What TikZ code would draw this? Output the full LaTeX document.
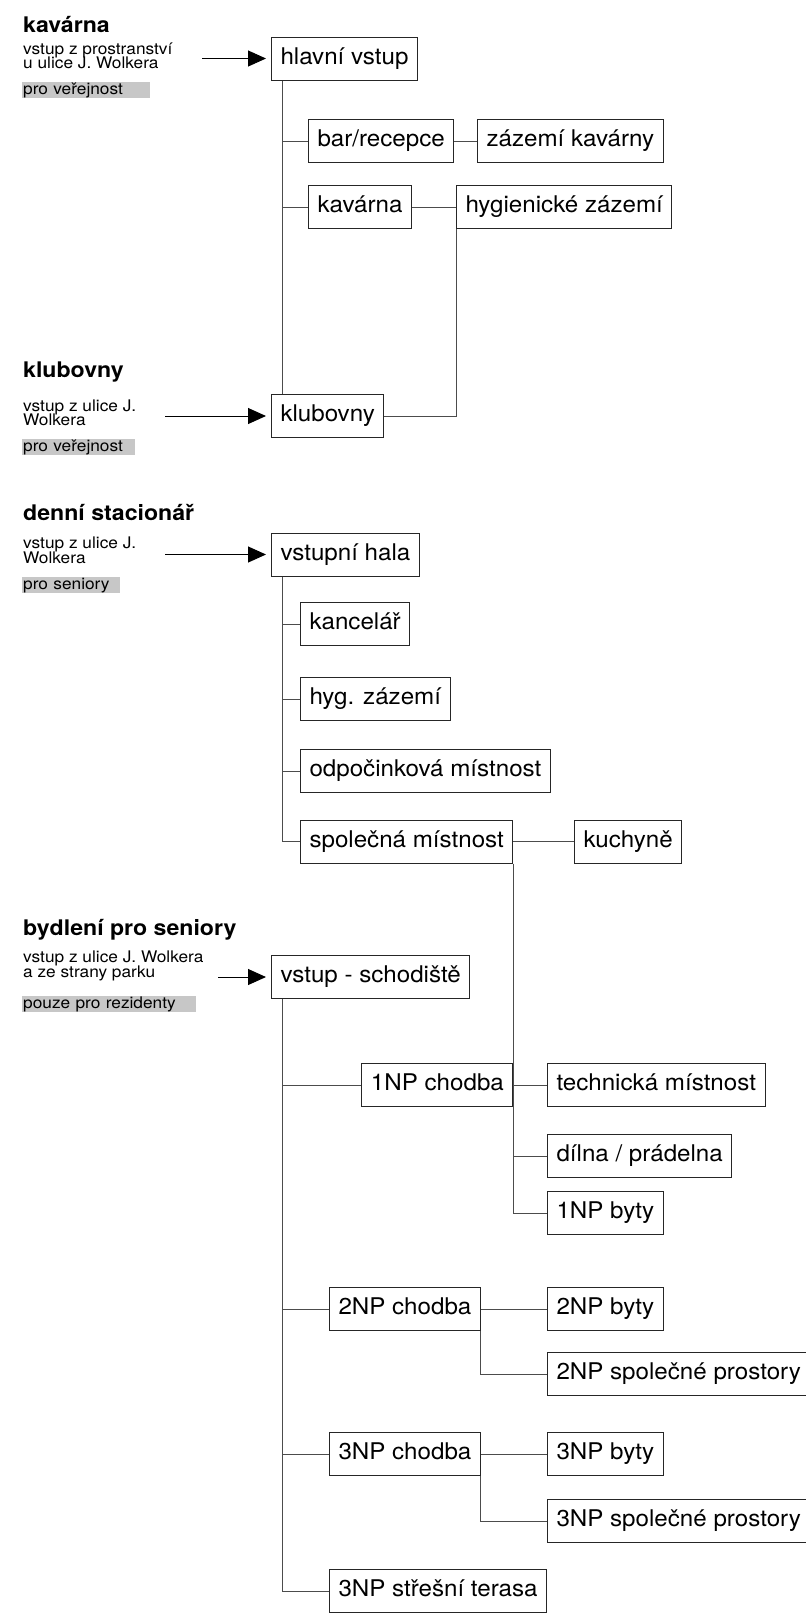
\documentclass[tikz,border=0pt]{standalone}
\usepackage{fontspec}
\setmainfont{TeX Gyre Heros}[FakeStretch=1.05]
\newfontfamily\smallfont{TeX Gyre Heros}[FakeStretch=1.08]
\newfontfamily\headfont{TeX Gyre Heros}[FakeStretch=1.075]
\usetikzlibrary{arrows.meta}
\begin{document}
\begin{tikzpicture}[x=1pt,y=-1pt,
  box/.style={draw=black!85, line width=1pt, anchor=west, font=\fontsize{23}{26}\selectfont, text height=16.8pt, text depth=5pt, inner xsep=9pt, inner ysep=0pt, minimum height=43pt},
  conn/.style={draw=black!70, line width=1pt},
  entry/.style={-{Triangle[length=18pt,width=16pt]}, line width=1pt, black, shorten >=5pt},
  head/.style={anchor=base west, font=\headfont\fontsize{21.5}{24}\selectfont\bfseries, inner sep=0pt},
  note/.style={anchor=base west, font=\smallfont\fontsize{16}{18}\selectfont, inner sep=0pt},
  tag/.style={anchor=north west, fill=black!22, font=\smallfont\fontsize{16}{18}\selectfont, inner xsep=1pt, inner ysep=0pt, text height=12pt, text depth=4pt, align=left}
]
\useasboundingbox (0,0) rectangle (806,1618);

% ---- kavarna
\node[head] (h1) at (23,32) {kavárna};
\node[note] (n1a) at (23,54) {vstup z prostranství};
\node[note] (n1b) at (23,68) {u ulice J. Wolkera};
\node[tag, text width=126pt] (t1) at (22,82) {pro veřejnost};
\coordinate (a1) at (202,58.5);
\node[box] (hv) at (271,58.5) {hlavní vstup};
\node[box] (bar) at (308,141) {bar/recepce};
\node[box] (zk) at (477,141) {zázemí kavárny};
\node[box] (kav) at (308,207) {kavárna};
\node[box] (hyg) at (456,207) {hygienické zázemí};

% ---- klubovny
\node[head] (h2) at (23,377) {klubovny};
\node[note] (n2a) at (23,411) {vstup z ulice J.};
\node[note] (n2b) at (23,425) {Wolkera};
\node[tag, text width=111pt] (t2) at (22,439) {pro veřejnost};
\coordinate (a2) at (165,416);
\node[box] (klub) at (271,416) {klubovny};

% ---- denni stacionar
\node[head] (h3) at (23,520) {denní stacionář};
\node[note] (n3a) at (23,548) {vstup z ulice J.};
\node[note] (n3b) at (23,563) {Wolkera};
\node[tag, text width=96pt] (t3) at (22,577) {pro seniory};
\coordinate (a3) at (165,554.5);
\node[box] (vh) at (271,554.5) {vstupní hala};
\node[box] (kanc) at (300,624) {kancelář};
\node[box] (hz) at (300,699) {hyg. zázemí};
\node[box] (odp) at (300,771) {odpočinková místnost};
\node[box] (spol) at (300,841.5) {společná místnost};
\node[box] (kuch) at (574,841.5) {kuchyně};

% ---- bydleni
\node[head] (h4) at (23,935) {bydlení pro seniory};
\node[note] (n4a) at (23,962) {vstup z ulice J. Wolkera};
\node[note] (n4b) at (23,977) {a ze strany parku};
\node[tag, text width=172pt] (t4) at (22,996) {pouze pro rezidenty};
\coordinate (a4) at (218,977);
\node[box] (vs) at (271,977) {vstup - schodiště};
\node[box, anchor=east] (c1) at (spol.east |- 0,1085) {1NP chodba};
\node[box] (tech) at (547,1085) {technická místnost};
\node[box] (dil) at (547,1156) {dílna / prádelna};
\node[box] (byt1) at (547,1213) {1NP byty};
\node[box] (c2) at (329,1309) {2NP chodba};
\node[box] (byt2) at (547,1309) {2NP byty};
\node[box] (sp2) at (547,1374) {2NP společné prostory};
\node[box] (c3) at (329,1454) {3NP chodba};
\node[box] (byt3) at (547,1454) {3NP byty};
\node[box] (sp3) at (547,1521) {3NP společné prostory};
\node[box] (ter) at (329,1591) {3NP střešní terasa};

% ---- entry arrows
\draw[entry] (a1) -- (hv.west);
\draw[entry] (a2) -- (klub.west);
\draw[entry] (a3) -- (vh.west);
\draw[entry] (a4) -- (vs.west);

% ---- connectors kavarna / klubovny
\coordinate (tr1) at ([xshift=11pt]hv.south west);
\draw[conn] (tr1) -- (tr1 |- klub.north);
\draw[conn] (tr1 |- bar.west) -- (bar.west);
\draw[conn] (tr1 |- kav.west) -- (kav.west);
\draw[conn] (bar.east) -- (zk.west);
\draw[conn] (kav.east) -- (hyg.west);
\draw[conn] (hyg.south west) |- (klub.east);

% ---- connectors denni stacionar
\coordinate (tr2) at ([xshift=11pt]vh.south west);
\draw[conn] (tr2) |- (spol.west);
\draw[conn] (tr2 |- kanc.west) -- (kanc.west);
\draw[conn] (tr2 |- hz.west) -- (hz.west);
\draw[conn] (tr2 |- odp.west) -- (odp.west);
\draw[conn] (spol.east) -- (kuch.west);
\draw[conn] (spol.south east) |- (byt1.west);
\draw[conn] (c1.east) -- (tech.west);
\draw[conn] (spol.east |- dil.west) -- (dil.west);

% ---- connectors bydleni
\coordinate (tr3) at ([xshift=11pt]vs.south west);
\draw[conn] (tr3) |- (ter.west);
\draw[conn] (tr3 |- c1.west) -- (c1.west);
\draw[conn] (tr3 |- c2.west) -- (c2.west);
\draw[conn] (tr3 |- c3.west) -- (c3.west);
\draw[conn] (c2.east) -- (byt2.west);
\draw[conn] (c2.south east) |- (sp2.west);
\draw[conn] (c3.east) -- (byt3.west);
\draw[conn] (c3.south east) |- (sp3.west);
\end{tikzpicture}
\end{document}
